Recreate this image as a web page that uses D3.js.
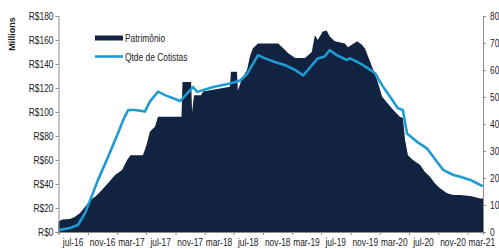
<!DOCTYPE html>
<html>
<head>
<meta charset="utf-8">
<script src="https://cdn.jsdelivr.net/npm/d3@7"></script>
<style>
  html, body { margin: 0; padding: 0; background: #fff; }
  svg { display: block; font-family: "Liberation Sans", Arial, sans-serif; }
</style>
</head>
<body>
<div id="chart"></div>
<script>
// Patrimônio (R$ millions)
const patrimonioDates = ['2016-05-01','2016-05-15','2016-06-18','2016-07-09','2016-07-30','2016-08-20','2016-09-10','2016-10-01','2016-10-29','2016-11-24','2016-12-23','2017-01-21','2017-02-11','2017-02-25','2017-04-18','2017-05-03','2017-05-17','2017-06-07','2017-06-20','2017-09-26','2017-09-30','2017-11-05','2017-11-09','2017-11-17','2017-12-16','2017-12-25','2018-04-16','2018-04-20','2018-05-15','2018-05-19','2018-06-05','2018-06-26','2018-07-08','2018-07-20','2018-08-11','2018-11-03','2018-11-20','2018-12-15','2019-01-13','2019-02-23','2019-03-23','2019-04-05','2019-04-17','2019-05-08','2019-05-24','2019-06-06','2019-06-27','2019-08-08','2019-08-21','2019-09-28','2019-10-18','2019-10-31','2019-11-21','2019-12-20','2020-01-10','2020-02-01','2020-02-26','2020-03-24','2020-04-06','2020-04-15','2020-04-27','2020-05-18','2020-06-16','2020-07-07','2020-07-28','2020-08-18','2020-09-08','2020-10-07','2020-11-02','2020-12-01','2021-01-12','2021-02-23','2021-03-06'];
const patrimonioValues = [8.6,10.5,10.8,12.8,15.8,21,26.7,29.4,35,40.8,47.5,51.7,60,64,64,72.5,83.6,87.8,96,96,125,125,100,114,114,117,121,133.6,133.6,118,128,135,146,153,157,157,154,149,145,145,150,164,160,167,168,163,159,157,154,159,156,153,142,127,113,107.5,101.7,96,95,76.7,64,60,56,50,46,40.5,36.4,32.2,30.8,30.8,30,28,28];

// Qtde de Cotistas (right axis)
const cotistasDates = ['2016-05-01','2016-06-18','2016-07-21','2016-08-20','2016-09-10','2016-10-13','2016-11-24','2017-01-01','2017-01-26','2017-02-16','2017-03-16','2017-04-26','2017-05-17','2017-06-20','2017-07-19','2017-09-20','2017-11-13','2017-11-30','2018-02-05','2018-04-16','2018-05-27','2018-06-26','2018-08-11','2018-09-09','2018-10-21','2018-12-02','2019-01-13','2019-02-15','2019-03-07','2019-04-17','2019-05-16','2019-06-06','2019-07-05','2019-08-16','2019-08-29','2019-10-10','2019-11-13','2019-12-12','2020-01-10','2020-02-13','2020-03-16','2020-04-06','2020-04-23','2020-06-04','2020-07-15','2020-08-26','2020-09-21','2020-11-02','2020-12-01','2021-01-12','2021-02-23','2021-03-06'];
const cotistasValues = [0.7,1.5,2.6,7,11.8,19.3,27.9,35.9,41.5,45.2,45.2,44.6,48.3,52,50.7,48.5,53.7,51.9,53.7,55,56,58.5,65.5,64.3,63,61.8,60,58,60,64.3,65,67.4,65.5,63.7,64.3,62.5,60.6,58.8,54.4,50,45.8,45.2,36.5,33.4,31,26,23,21.1,20.5,19.3,17.4,17];

const xLabels = ['jul-16','nov-16','mar-17','jul-17','nov-17','mar-18','jul-18','nov-18','mar-19','jul-19','nov-19','mar-20','jul-20','nov-20','mar-21'];
const leftTicks = [0,20,40,60,80,100,120,140,160,180];
const rightTicks = [0,10,20,30,40,50,60,70,80];
const seriesNames = ['Patrimônio','Qtde de Cotistas'];

const width = 499, height = 249;
const parse = d3.timeParse('%Y-%m-%d');
const navy = '#112341', blue = '#1e9bd3', axisColor = '#8c8c8c';
const squeeze = 0.84; // the original uses a narrow typeface

const svg = d3.select('#chart')
  .append('svg')
  .attr('width', width)
  .attr('height', height);

const x = d3.scaleTime()
  .domain([parse('2016-05-01'), parse('2021-03-06')])
  .range([58.5, 483]);
const yL = d3.scaleLinear().domain([0, 180]).range([232, 16]);
const yR = d3.scaleLinear().domain([0, 80]).range([232, 16]);

const patrimonio = patrimonioDates.map((d, i) => ({ date: parse(d), value: patrimonioValues[i] }));
const cotistas = cotistasDates.map((d, i) => ({ date: parse(d), value: cotistasValues[i] }));

// area
svg.append('path')
  .datum(patrimonio)
  .attr('fill', navy)
  .attr('d', d3.area()
    .x(d => x(d.date))
    .y0(yL(0))
    .y1(d => yL(d.value)));

// line
svg.append('path')
  .datum(cotistas)
  .attr('fill', 'none')
  .attr('stroke', blue)
  .attr('stroke-width', 2.6)
  .attr('stroke-linejoin', 'round')
  .attr('d', d3.line()
    .x(d => x(d.date))
    .y(d => yR(d.value)));

// left axis
const gL = svg.append('g')
  .attr('transform', 'translate(58.5,0)')
  .call(d3.axisLeft(yL).tickValues(leftTicks).tickSize(3).tickPadding(3)
    .tickFormat(d => 'R$' + d));
gL.selectAll('text')
  .style('font-size', '10px')
  .attr('fill', '#222')
  .attr('x', -5 / squeeze)
  .attr('transform', `scale(${squeeze},1)`);

// right axis
const gR = svg.append('g')
  .attr('transform', 'translate(483,0)')
  .call(d3.axisRight(yR).tickValues(rightTicks).tickSize(3).tickPadding(3));
gR.selectAll('text')
  .style('font-size', '10px')
  .attr('fill', '#222')
  .attr('x', 7 / squeeze)
  .attr('transform', `scale(${squeeze},1)`);

// bottom axis: tick marks between labels, labels in the middle of each 4-month band
const tickDates = d3.timeMonth.every(4).range(parse('2016-05-01'), parse('2021-03-06'));
const gB = svg.append('g')
  .attr('transform', 'translate(0,232)')
  .call(d3.axisBottom(x).tickValues(tickDates).tickSize(3).tickFormat(''));
const labelDates = tickDates.map(d => d3.timeMonth.offset(d, 2));
gB.selectAll('.xlab')
  .data(xLabels)
  .enter()
  .append('text')
  .attr('class', 'xlab')
  .attr('transform', (d, i) => `translate(${Math.min(x(labelDates[i]), 482)},14) scale(${squeeze},1)`)
  .attr('text-anchor', 'middle')
  .attr('fill', '#222')
  .style('font-size', '10px')
  .text(d => d);

[gL, gR, gB].forEach(g => {
  g.select('.domain').attr('stroke', axisColor);
  g.selectAll('.tick line').attr('stroke', axisColor);
});

// y title
svg.append('text')
  .attr('transform', 'translate(15,34) rotate(-90)')
  .attr('text-anchor', 'middle')
  .attr('font-weight', 'bold')
  .attr('fill', '#222')
  .style('font-size', '9px')
  .text('Millions');

// legend
const legend = svg.append('g').attr('transform', 'translate(95,0)');
legend.append('rect')
  .attr('x', 0).attr('y', 35.5).attr('width', 28).attr('height', 5)
  .attr('fill', navy);
legend.append('line')
  .attr('x1', 0).attr('x2', 28).attr('y1', 56.5).attr('y2', 56.5)
  .attr('stroke', blue).attr('stroke-width', 2.6);
legend.selectAll('.ltext')
  .data(seriesNames)
  .enter()
  .append('text')
  .attr('transform', (d, i) => `translate(30,${41.5 + i * 19}) scale(${squeeze},1)`)
  .attr('fill', '#222')
  .style('font-size', '10px')
  .text(d => d);
</script>
</body>
</html>
